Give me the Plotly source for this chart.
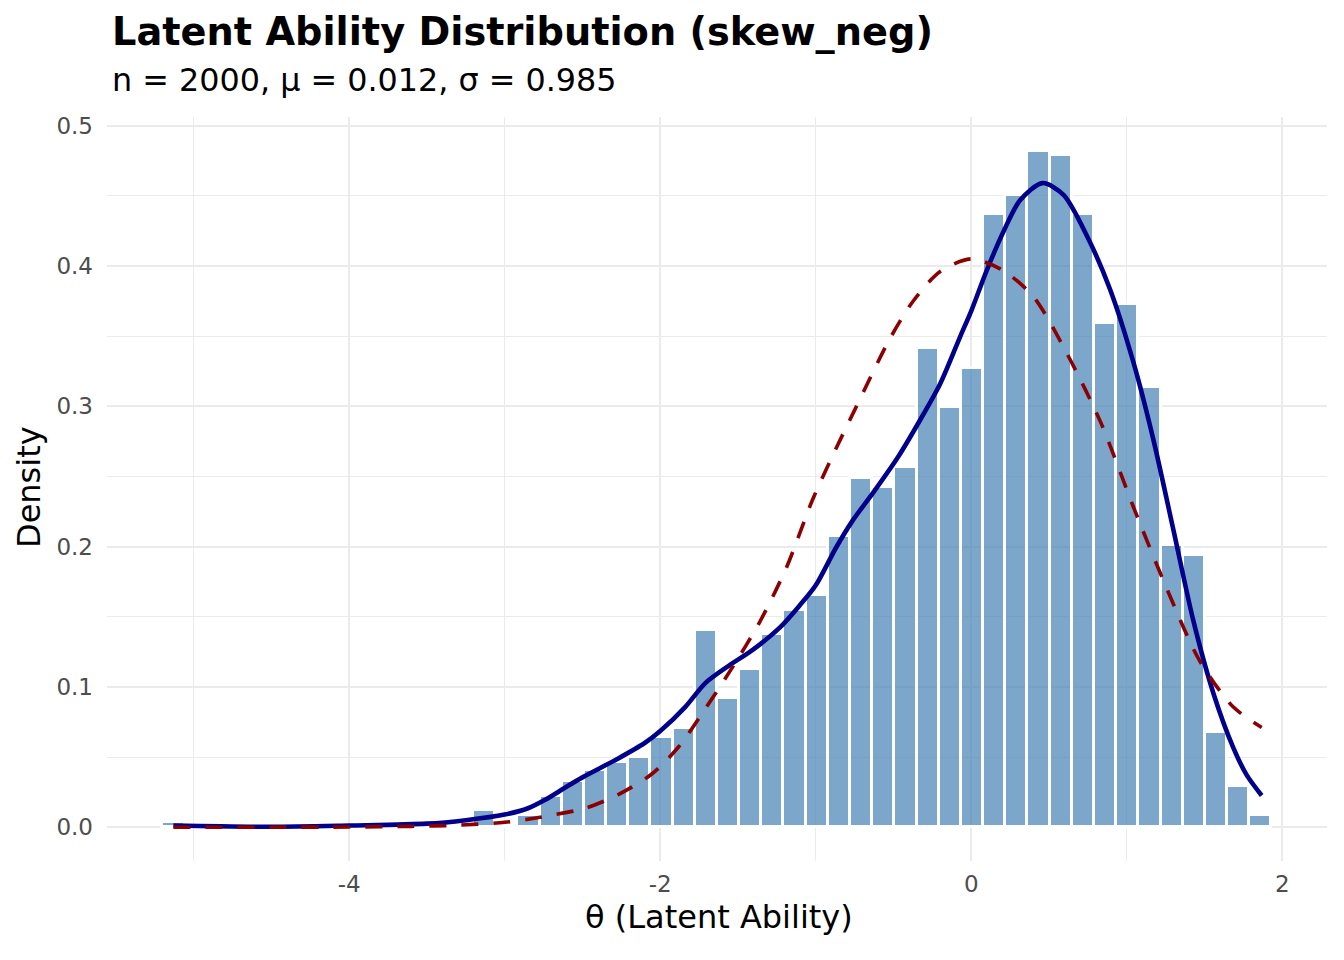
import plotly.graph_objects as go

# histogram: 50 bins, width ~0.1426, centres
bin_width = 0.1426
first_center = -5.129
bar_density = [
    0.0035, 0.0, 0.0, 0.0, 0.0, 0.0, 0.0, 0.0, 0.0, 0.0,
    0.0, 0.0, 0.0, 0.0015, 0.0124, 0.002, 0.0085, 0.0225, 0.0332, 0.0405,
    0.0465, 0.0501, 0.0641, 0.0709, 0.1408, 0.0922, 0.1130, 0.1377, 0.1550, 0.1653,
    0.2073, 0.2491, 0.2423, 0.2565, 0.3415, 0.2997, 0.3275, 0.4367, 0.4503, 0.4820,
    0.4787, 0.4367, 0.3592, 0.3731, 0.3136, 0.2012, 0.1941, 0.0678, 0.0294, 0.0084,
]
bar_x = [first_center + i * bin_width for i in range(len(bar_density))]

# kernel density curve (navy)
kde_x = [-5.13, -4.5, -4.0, -3.5, -3.25, -3.0, -2.85, -2.74, -2.6, -2.5, -2.27, -2.1,
         -2.0, -1.84, -1.71, -1.56, -1.41, -1.235, -1.106, -1.0, -0.869, -0.761,
         -0.631, -0.47, -0.33, -0.2, -0.07, 0.0, 0.1, 0.208, 0.315, 0.458, 0.593,
         0.743, 0.893, 1.043, 1.171, 1.3, 1.428, 1.557, 1.685, 1.771, 1.867]
kde_y = [0.0012, 0.0003, 0.0012, 0.0025, 0.005, 0.009, 0.0135, 0.0195, 0.029, 0.0355,
         0.049, 0.060, 0.0685, 0.0856, 0.1027, 0.115, 0.126, 0.1418, 0.1577, 0.1724,
         0.1993, 0.2188, 0.2384, 0.264, 0.290, 0.316, 0.350, 0.368, 0.397, 0.4247,
         0.447, 0.459, 0.4506, 0.4215, 0.383, 0.331, 0.276, 0.2116, 0.147, 0.0953,
         0.0565, 0.0371, 0.0226]

# normal reference curve (dark red, dashed)
norm_x = [-5.13, -4.5, -4.0, -3.6, -3.3, -3.0, -2.8, -2.7, -2.485, -2.27, -2.054,
          -1.88, -1.71, -1.537, -1.364, -1.19, -1.02, -0.869, -0.74, -0.524, -0.373,
          -0.2, 0.0, 0.2, 0.4, 0.615, 0.83, 1.043, 1.257, 1.471, 1.685, 1.867]
norm_y = [0.0, 0.0, 0.0001, 0.0006, 0.0014, 0.0035, 0.0065, 0.0085, 0.0134, 0.0232,
          0.0379, 0.0575, 0.0844, 0.1137, 0.1455, 0.1846, 0.2335, 0.270, 0.2995,
          0.348, 0.375, 0.396, 0.405, 0.397, 0.378, 0.3375, 0.289, 0.228, 0.170,
          0.118, 0.0856, 0.071]

x_ticks = [-4, -2, 0, 2]
y_ticks = [0.0, 0.1, 0.2, 0.3, 0.4, 0.5]

title_text = "Latent Ability Distribution (skew_neg)"
subtitle_text = "n = 2000, μ = 0.012, σ = 0.985"
x_title = "θ (Latent Ability)"
y_title = "Density"

FONT = "DejaVu Sans"

fig = go.Figure()

fig.add_trace(go.Bar(
    x=bar_x, y=bar_density, width=bin_width,
    marker=dict(color="rgba(70,130,180,0.7)", line=dict(color="white", width=3)),
    showlegend=False,
))

fig.add_trace(go.Scatter(
    x=kde_x, y=kde_y, mode="lines",
    line=dict(color="#00008B", width=4.6, shape="spline", smoothing=0.8),
    showlegend=False,
))

fig.add_trace(go.Scatter(
    x=norm_x, y=norm_y, mode="lines",
    line=dict(color="#8B0000", width=3.6, dash="17px,15px", shape="spline", smoothing=0.8),
    showlegend=False,
))

# plot area in pixels: left 107, right 1327, top 117, bottom 861
L, T, B = 107, 117, 861
PW, PH = 1327 - L, B - T


def px_x(p):
    return (p - L) / PW


def px_y(p):
    return (B - p) / PH


annotations = [
    dict(text=f"<b>{title_text}</b>", x=px_x(110), y=px_y(31), xanchor="left", yanchor="middle",
         font=dict(family=FONT, size=38.3, color="black")),
    dict(text=subtitle_text, x=px_x(110), y=px_y(79), xanchor="left", yanchor="middle",
         font=dict(family=FONT, size=31.8, color="black")),
    dict(text=x_title, x=px_x(719), y=px_y(917), xanchor="center", yanchor="middle",
         font=dict(family=FONT, size=32, color="black")),
    dict(text=y_title, x=px_x(29), y=px_y(487), xanchor="center", yanchor="middle",
         textangle=-90, font=dict(family=FONT, size=32, color="black")),
]
for a in annotations:
    a.update(xref="paper", yref="paper", showarrow=False)

grid = "#EBEBEB"
fig.update_layout(
    width=1344, height=960,
    paper_bgcolor="white", plot_bgcolor="white",
    margin=dict(l=L, r=1344 - 1327, t=T, b=960 - B),
    font=dict(family=FONT, color="#4D4D4D"),
    bargap=0,
    annotations=annotations,
    xaxis=dict(
        range=[-5.557, 2.287], tickvals=x_ticks, ticktext=[str(v) for v in x_ticks],
        showgrid=True, gridcolor=grid, gridwidth=2.2, zeroline=False, showline=False,
        ticks="", tickfont=dict(size=23, color="#4D4D4D"), ticklabelstandoff=7,
        minor=dict(dtick=1, tick0=0, showgrid=True, gridcolor=grid, gridwidth=1.1),
    ),
    yaxis=dict(
        range=[-0.0241, 0.5061], tickvals=y_ticks, ticktext=[f"{v:.1f}" for v in y_ticks],
        showgrid=True, gridcolor=grid, gridwidth=2.2, zeroline=False, showline=False,
        ticks="", tickfont=dict(size=23, color="#4D4D4D"), ticklabelstandoff=13,
        minor=dict(dtick=0.05, tick0=0, showgrid=True, gridcolor=grid, gridwidth=1.1),
    ),
)

fig.write_html("out.html", config={"displayModeBar": False},
               post_script="document.body.style.margin='0';")
